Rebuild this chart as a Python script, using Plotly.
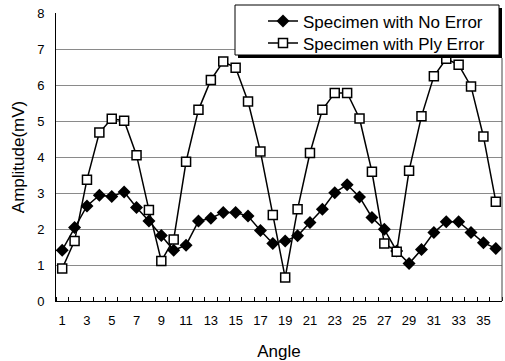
import plotly.graph_objects as go

angles = list(range(1, 37))
no_error = [1.41, 2.04, 2.64, 2.94, 2.90, 3.03, 2.60, 2.22, 1.82, 1.41,
            1.55, 2.22, 2.30, 2.46, 2.46, 2.36, 1.96, 1.60, 1.67, 1.81,
            2.18, 2.55, 3.01, 3.23, 2.89, 2.32, 1.99, 1.39, 1.04, 1.43,
            1.90, 2.20, 2.20, 1.90, 1.62, 1.46]
ply_error = [0.90, 1.67, 3.37, 4.68, 5.06, 5.01, 4.05, 2.53, 1.11, 1.71,
             3.87, 5.31, 6.14, 6.65, 6.48, 5.54, 4.15, 2.39, 0.65, 2.55,
             4.11, 5.31, 5.78, 5.78, 5.07, 3.59, 1.60, 1.37, 3.62, 5.13,
             6.24, 6.73, 6.56, 5.96, 4.57, 2.76]
x_tick_vals = list(range(1, 37, 2))
y_tick_vals = list(range(0, 9))

font_family = "Liberation Sans, Arial, Helvetica, sans-serif"

L, R, T, B = 56, 3, 13, 60
W, H = 505, 361
PW, PH = W - L - R, H - T - B


def px_x(p):
    return (p - L) / PW


def px_y(p):
    return (H - B - p) / PH


fig = go.Figure()
fig.add_trace(go.Scatter(
    x=angles, y=no_error, mode="lines+markers", name="Specimen with No Error",
    line=dict(color="black", width=1.5),
    marker=dict(symbol="diamond", size=10, color="black"),
    legend="legend",
))
fig.add_trace(go.Scatter(
    x=angles, y=ply_error, mode="lines+markers", name="Specimen with Ply Error",
    line=dict(color="black", width=1.5),
    marker=dict(symbol="square", size=9, color="white",
                line=dict(color="black", width=1.5)),
    legend="legend2",
))

# legend box with drop shadow
fig.add_shape(type="rect", xref="paper", yref="paper",
              x0=px_x(238), x1=px_x(502), y0=px_y(58), y1=px_y(8),
              fillcolor="black", line=dict(width=0), layer="above")
fig.add_shape(type="rect", xref="paper", yref="paper",
              x0=px_x(235), x1=px_x(499), y0=px_y(55), y1=px_y(5),
              fillcolor="white", line=dict(color="black", width=1), layer="above")
# right border of plot area
fig.add_shape(type="line", xref="paper", yref="paper", x0=1, x1=1, y0=0, y1=px_y(58),
              line=dict(color="#444", width=1))

legend_common = dict(
    x=px_x(263), xanchor="left", yanchor="middle",
    bgcolor="rgba(0,0,0,0)", borderwidth=0,
    font=dict(size=17, family=font_family),
    tracegroupgap=0, itemwidth=30,
)

fig.update_layout(
    width=W, height=H,
    margin=dict(l=L, r=R, t=T, b=B),
    paper_bgcolor="white", plot_bgcolor="white",
    font=dict(family=font_family, color="black", size=13),
    showlegend=True,
    legend=dict(y=px_y(21.5), **legend_common),
    legend2=dict(y=px_y(43.5), **legend_common),
    xaxis=dict(
        range=[0.5, 36.5], tickmode="array", tickvals=x_tick_vals,
        ticktext=[str(v) for v in x_tick_vals],
        showgrid=False, zeroline=False,
        showline=True, linecolor="black", linewidth=1,
        ticks="", tickfont=dict(size=13), ticklabelstandoff=7,
        title=dict(text="Angle", font=dict(size=17), standoff=18),
        minor=dict(tickmode="linear", tick0=0.5, dtick=1,
                   ticks="inside", ticklen=4, tickcolor="black", showgrid=False),
    ),
    yaxis=dict(
        range=[0, 8], tickmode="array", tickvals=y_tick_vals,
        showgrid=True, gridcolor="#8a8a8a", gridwidth=1,
        zeroline=False, showline=True, linecolor="black", linewidth=1,
        ticks="", tickfont=dict(size=13), ticklabelstandoff=8,
        title=dict(text="Amplitude(mV)", font=dict(size=17), standoff=8),
    ),
)

fig.write_html("out.html", config={"displayModeBar": False},
               post_script="document.body.style.margin='0';")
